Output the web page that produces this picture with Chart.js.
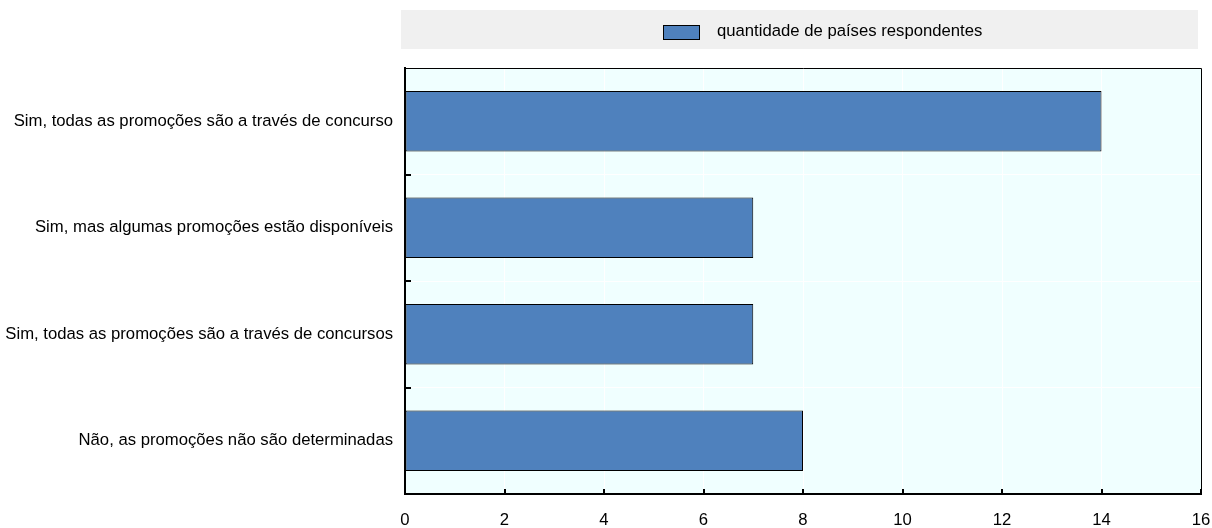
<!DOCTYPE html>
<html>
<head>
<meta charset="utf-8">
<script src="https://cdn.jsdelivr.net/npm/chart.js@4.4.1/dist/chart.umd.min.js"></script>
<style>
  body { margin: 0; background: #fff; }
  #wrap { position: relative; width: 1212px; height: 528px; }
  #legend {
    position: absolute; left: 401px; top: 10px; width: 797px; height: 39px;
    background: #f0f0f0;
  }
  #legend .sw {
    position: absolute; left: 262px; top: 15px; width: 35px; height: 13px;
    background: #4f81bd; border: 1px solid #000;
  }
  #legend .tx {
    position: absolute; left: 316px; top: 0; line-height: 42px; color: #000; white-space: nowrap;
    font-family: "Liberation Sans", Arial, sans-serif; font-size: 16.7px;
  }
  canvas { position: absolute; left: 0; top: 0; }
</style>
</head>
<body>
<div id="wrap">
  <canvas id="myChart" width="1212" height="528"></canvas>
  <div id="legend"><span class="sw"></span><span class="tx" id="legendText"></span></div>
</div>
<script>
const categorias = [
  "Sim, todas as promoções são a través de concurso",
  "Sim, mas algumas promoções estão disponíveis",
  "Sim, todas as promoções são a través de concursos",
  "Não, as promoções não são determinadas"
];
const valores = [14, 7, 7, 8];
const serieNome = "quantidade de países respondentes";
const xMin = 0;
const xMax = 16;
const xPasso = 2;

document.getElementById("legendText").textContent = serieNome;

const fundoEBordas = {
  id: "fundoEBordas",
  beforeDraw: (chart) => {
    const { ctx, chartArea: a } = chart;
    ctx.save();
    ctx.fillStyle = "#f0ffff";
    ctx.fillRect(a.left, a.top, a.right - a.left, a.bottom - a.top);
    ctx.restore();
  },
  afterDraw: (chart) => {
    const { ctx, chartArea: a, scales } = chart;
    ctx.save();
    ctx.strokeStyle = "#000";
    ctx.lineWidth = 1;
    ctx.beginPath();
    ctx.moveTo(a.left, a.top + 0.5);
    ctx.lineTo(a.right + 0.5, a.top + 0.5);
    ctx.lineTo(a.right + 0.5, a.bottom);
    ctx.stroke();
    // marcas para dentro
    ctx.lineWidth = 2;
    ctx.beginPath();
    scales.x.ticks.forEach((t) => {
      const px = Math.round(scales.x.getPixelForValue(t.value));
      ctx.moveTo(px, a.bottom);
      ctx.lineTo(px, a.bottom - 5);
    });
    for (let i = 0; i < categorias.length - 1; i++) {
      const py = Math.round((scales.y.getPixelForValue(i) + scales.y.getPixelForValue(i + 1)) / 2);
      ctx.moveTo(a.left, py);
      ctx.lineTo(a.left + 6, py);
    }
    ctx.stroke();
    ctx.restore();
  }
};

Chart.defaults.font.family = '"Liberation Sans", Arial, sans-serif';
Chart.defaults.font.size = 16.7;
Chart.defaults.color = "#000";

const mychart = new Chart(document.getElementById("myChart"), {
  type: "bar",
  data: {
    labels: categorias,
    datasets: [
      {
        label: serieNome,
        data: valores,
        backgroundColor: "#4f81bd",
        borderColor: "#000",
        borderWidth: 1,
        borderSkipped: false,
        barPercentage: 0.57,
        categoryPercentage: 1
      }
    ]
  },
  options: {
    indexAxis: "y",
    responsive: false,
    animation: false,
    devicePixelRatio: 1,
    layout: { padding: { top: 68, right: 11, left: 0, bottom: 0 } },
    plugins: { legend: { display: false }, tooltip: { enabled: false } },
    scales: {
      x: {
        min: xMin,
        max: xMax,
        ticks: { stepSize: xPasso, padding: 16, color: "#000" },
        grid: { color: "#ffffff", drawTicks: false },
        border: { color: "#000", width: 2 },
        afterFit: (s) => {
          s.height = 34;
          s.paddingLeft = 0;
          s.paddingRight = 0;
        }
      },
      y: {
        ticks: { padding: 12, color: "#000" },
        grid: { color: "#ffffff", drawTicks: false },
        border: { color: "#000", width: 2 },
        afterFit: (s) => { s.width = 405; }
      }
    }
  },
  plugins: [fundoEBordas]
});
</script>
</body>
</html>
